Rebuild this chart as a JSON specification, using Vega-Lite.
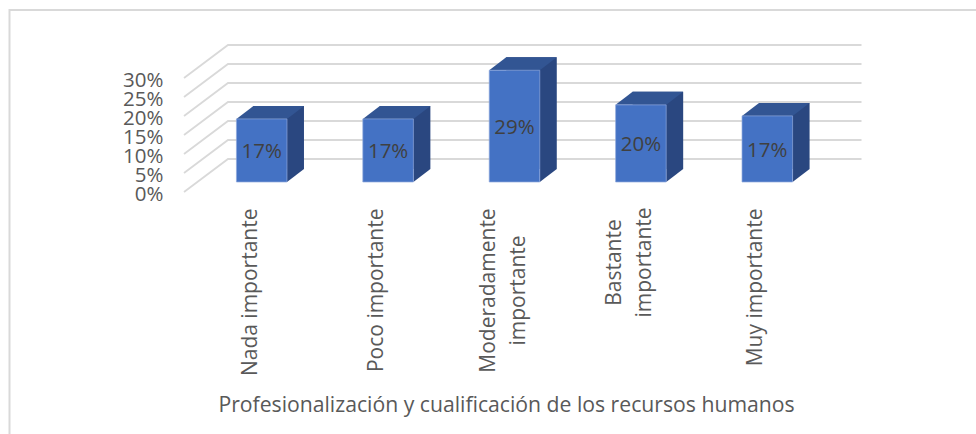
{"$schema":"https://vega.github.io/schema/vega-lite/v6.json","width":976,"height":434,"padding":0,"autosize":{"type":"none"},"background":"white","view":{"stroke":null},"datasets":{"bars":[{"cat":"Nada importante","value":0.166},{"cat":"Poco importante","value":0.166},{"cat":"Moderadamente importante","value":0.294},{"cat":"Bastante importante","value":0.203},{"cat":"Muy importante","value":0.174}],"ticks":[{"v":0},{"v":0.05},{"v":0.1},{"v":0.15},{"v":0.2},{"v":0.25},{"v":0.3}]},"layer":[{"data":{"values":[{"frame":1}]},"mark":{"type":"point","shape":"M-478.5 217 L-478.5 -207 L488 -207","size":4,"filled":false,"opacity":1,"stroke":"#d9d9d9","strokeWidth":2},"encoding":{}},{"data":{"name":"ticks"},"mark":{"type":"point","shape":"M-304 33 L-260 0 L373.5 0","size":4,"filled":false,"opacity":1,"stroke":"#d9d9d9","strokeWidth":1.8,"yOffset":-23},"encoding":{"y":{"field":"v","type":"quantitative","scale":{"domain":[0,0.3],"range":[182,68],"nice":false,"zero":false},"axis":{"title":null,"values":[0,0.05,0.1,0.15,0.2,0.25,0.3],"format":".0%","orient":"left","offset":-163,"labelPadding":0,"ticks":false,"domain":false,"grid":false,"labelOffset":12,"labelFont":"Open Sans","labelFontSize":20.5,"labelColor":"#595959","labelOverlap":false,"labelBound":false,"labelFlush":false}}}},{"data":{"name":"bars"},"encoding":{"x":{"field":"cat","type":"nominal","sort":null,"title":"Profesionalización y cualificación de los recursos humanos","scale":{"type":"band","range":[198.5,830.5],"paddingInner":0.6,"paddingOuter":0.3},"axis":{"orient":"bottom","offset":-252,"ticks":false,"domain":false,"grid":false,"labelAngle":-90,"labelPadding":26,"labelOffset":{"condition":{"test":"datum.label=='Moderadamente importante'||datum.label=='Bastante importante'","value":-26},"value":-11},"labelAlign":{"condition":{"test":"datum.label=='Moderadamente importante'||datum.label=='Bastante importante'","value":"center"},"value":"right"},"encoding":{"labels":{"dx":{"condition":[{"test":"datum.label=='Moderadamente importante'","value":-82},{"test":"datum.label=='Bastante importante'","value":-54}],"value":0}}},"labelFont":"Open Sans","labelFontSize":21,"labelLineHeight":30,"labelColor":"#595959","labelOverlap":false,"labelBound":false,"labelFlush":false,"labelLimit":0,"labelExpr":"datum.label=='Moderadamente importante'?['Moderadamente','importante']:datum.label=='Bastante importante'?['Bastante','importante']:datum.label","titleFont":"Open Sans","titleFontSize":21.2,"titleFontWeight":"normal","titleColor":"#595959","titleX":506,"titleY":223,"titleAlign":"center","titleBaseline":"middle"}}},"layer":[{"mark":{"type":"bar","color":"#2a4780","xOffset":17,"x2Offset":17,"yOffset":-13,"y2Offset":-13},"encoding":{"y":{"field":"value","type":"quantitative","axis":{"title":null}}}},{"mark":{"type":"point","shape":"M25.3 0 L42.3 -13 L25.3 -13 Z","size":4,"filled":true,"opacity":1,"color":"#2a4780"},"encoding":{"y":{"datum":0,"type":"quantitative","axis":{"title":null}}}},{"mark":{"type":"point","shape":"M-25.3 0 L-8.3 -13 L42.3 -13 L25.3 0 Z","size":4,"filled":true,"opacity":1,"color":"#325593"},"encoding":{"y":{"field":"value","type":"quantitative","axis":{"title":null}}}},{"mark":{"type":"bar","color":"#4472c4","stroke":"#8fa9dc","strokeWidth":0.7},"encoding":{"y":{"field":"value","type":"quantitative","axis":{"title":null}}}},{"mark":{"type":"text","font":"Open Sans","fontSize":20.5,"color":"#404040","dy":2,"align":"center","baseline":"middle"},"encoding":{"y":{"field":"value","type":"quantitative","stack":"zero","bandPosition":0.5,"axis":{"title":null}},"text":{"field":"value","type":"quantitative","format":".0%"}}}]}]}
